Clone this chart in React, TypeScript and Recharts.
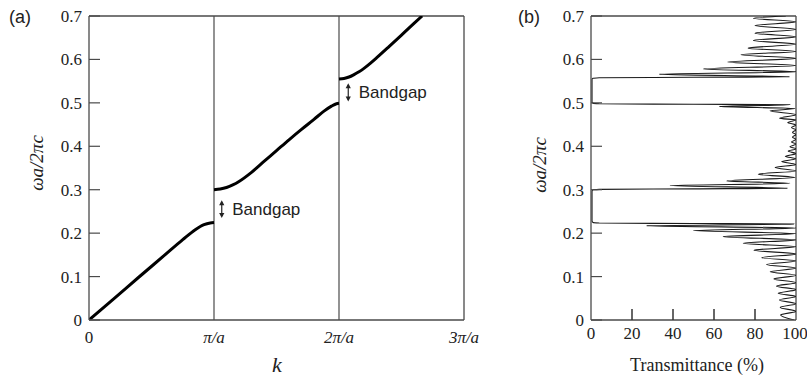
import React from 'react';
import { LineChart, Line, XAxis, YAxis, ReferenceLine } from 'recharts';

// ---------- data ----------
const kTicks = [0, 1, 2, 3];
const kTickLabels = ['0', 'π/a', '2π/a', '3π/a'];
const freqTicks = [0, 0.1, 0.2, 0.3, 0.4, 0.5, 0.6, 0.7];
const freqTickLabels = ['0', '0.1', '0.2', '0.3', '0.4', '0.5', '0.6', '0.7'];
const transTicks = [0, 20, 40, 60, 80, 100];
const transTickLabels = ['0', '20', '40', '60', '80', '100'];

// band diagram: [k (units of pi/a), normalized frequency]
const band1: [number, number][] = [
  [0, 0], [0.2, 0.049], [0.4, 0.099], [0.6, 0.148], [0.75, 0.185],
  [0.85, 0.208], [0.92, 0.2195], [0.97, 0.2235], [1.0, 0.2245],
];
const band2: [number, number][] = [
  [1.0, 0.3], [1.05, 0.3015], [1.1, 0.305], [1.15, 0.311], [1.2, 0.319], [1.3, 0.34],
  [1.4, 0.365], [1.5, 0.39], [1.6, 0.415], [1.7, 0.439], [1.8, 0.462], [1.88, 0.481],
  [1.94, 0.4925], [1.98, 0.498], [2.0, 0.499],
];
const band3: [number, number][] = [
  [2.0, 0.555], [2.04, 0.5563], [2.08, 0.5595], [2.12, 0.565], [2.16, 0.5715], [2.2, 0.5795],
  [2.25, 0.591], [2.3, 0.6035], [2.4, 0.6295], [2.5, 0.656], [2.6, 0.683], [2.665, 0.7],
];

// bandgap annotations: [k, lower freq, upper freq]
const gapArrows: [number, number, number][] = [
  [1.062, 0.235, 0.276],
  [2.074, 0.503, 0.545],
];
const gapLabel = 'Bandgap';

// transmittance spectrum: [normalized frequency, transmittance %]
const spectrum: [number, number][] = [
  [0, 99], [0.0115, 92.5], [0.02, 100], [0.029, 92.3], [0.0375, 100], [0.046, 91.9],
  [0.054, 100], [0.0615, 91.3], [0.07, 100], [0.078, 90.5], [0.086, 100], [0.0945, 89.2],
  [0.103, 100], [0.111, 87.4], [0.1195, 100], [0.128, 85.6], [0.136, 100], [0.1436, 83.3],
  [0.152, 100], [0.1606, 79.5], [0.169, 100], [0.1767, 74.3], [0.1845, 100], [0.1919, 64.5],
  [0.199, 100], [0.2058, 49.8], [0.2118, 100], [0.217, 27.0], [0.2208, 99],
  [0.2222, 50], [0.2232, 4], [0.2245, 1], [0.228, 0.5], [0.296, 0.5], [0.2995, 1],
  [0.3008, 4], [0.302, 50], [0.3035, 96],
  [0.3095, 38.5], [0.3148, 97], [0.3203, 66.2], [0.328, 99.5], [0.3357, 81.6], [0.3433, 100],
  [0.351, 89.8], [0.358, 100], [0.365, 93], [0.371, 100], [0.377, 94.8], [0.383, 100],
  [0.389, 96.2], [0.394, 100], [0.399, 97], [0.405, 100], [0.41, 97.8], [0.416, 100],
  [0.421, 98.3], [0.427, 100], [0.432, 98.3], [0.438, 100], [0.443, 97.8], [0.449, 100],
  [0.455, 96], [0.4605, 100], [0.4647, 92], [0.4725, 100], [0.4816, 87.3], [0.4868, 99.5],
  [0.4916, 62.6], [0.4955, 97],
  [0.4968, 50], [0.4978, 4], [0.499, 1], [0.502, 0.5], [0.554, 0.5], [0.5565, 1],
  [0.5578, 4], [0.5588, 50], [0.5602, 97],
  [0.566, 33.2], [0.5715, 100], [0.578, 54.8], [0.586, 100], [0.594, 66.7], [0.6025, 100],
  [0.611, 73.2], [0.6185, 100], [0.626, 76.7], [0.635, 100], [0.6436, 79.2], [0.652, 100],
  [0.6605, 80], [0.669, 100], [0.678, 80], [0.6865, 100], [0.695, 79.2], [0.7, 95],
];

// ---------- styles ----------
const SERIF = '"Liberation Serif", "Times New Roman", serif';
const SANS = '"Liberation Sans", Arial, sans-serif';
const FRAME = '#4a4a4a';
const TEXT = '#222';

const toBand = (arr: [number, number][]) => arr.map(([k, w]) => ({ k, w }));
const specData = spectrum.map(([f, t]) => ({ f, t }));

const FreqTick = (props: any) => {
  const { x, y, payload } = props;
  const i = freqTicks.indexOf(payload.value);
  return (
    <g>
      <line x1={x} x2={x + 11} y1={y} y2={y} stroke={FRAME} strokeWidth={1.2} />
      <text x={x - 7} y={y} dy="0.35em" textAnchor="end" fontFamily={SERIF} fontSize={17} fill={TEXT}>
        {i >= 0 ? freqTickLabels[i] : payload.value}
      </text>
    </g>
  );
};

const KTick = (props: any) => {
  const { x, y, payload } = props;
  const i = kTicks.indexOf(payload.value);
  return (
    <text x={x} y={y + 17} dy="0.35em" textAnchor="middle" fontFamily={SERIF} fontStyle={payload.value === 0 ? 'normal' : 'italic'} fontSize={17} fill={TEXT}>
      {i >= 0 ? kTickLabels[i] : payload.value}
    </text>
  );
};

// Transmittance axis tick: an inward (upward) mark of 11px plus the label below the axis.
const TransTick = (props: any) => {
  const { x, y, payload } = props;
  const i = transTicks.indexOf(payload.value);
  const v = Number(payload.value);
  return (
    <g>
      {v > 0 && v < 100 ? (
        <path d={`M${x},${y}L${x},${y - 11}`} stroke="#333" strokeWidth={1.5} fill="none" />
      ) : null}
      <text x={x} y={y + 13} dy="0.35em" textAnchor="middle" fontFamily={SERIF} fontSize={17} fill={TEXT}>
        {i >= 0 ? transTickLabels[i] : payload.value}
      </text>
    </g>
  );
};

const GapArrow = (props: any) => {
  const { x1, y1, y2 } = props;
  const x = x1;
  const top = Math.min(y1, y2);
  const bot = Math.max(y1, y2);
  return (
    <g>
      <line x1={x} x2={x} y1={top + 2} y2={bot - 2} stroke={TEXT} strokeWidth={1.2} />
      <polygon points={`${x},${top} ${x - 2.6},${top + 5} ${x + 2.6},${top + 5}`} fill={TEXT} />
      <polygon points={`${x},${bot} ${x - 2.6},${bot - 5} ${x + 2.6},${bot - 5}`} fill={TEXT} />
      <text x={x + 10.5} y={(top + bot) / 2} dy="0.35em" fontFamily={SANS} fontSize={17} fill={TEXT}>
        {gapLabel}
      </text>
    </g>
  );
};

const abs = (left: number, top: number): React.CSSProperties => ({
  position: 'absolute',
  left,
  top,
  whiteSpace: 'nowrap',
  lineHeight: 1,
});

export default function App() {
  return (
    <div style={{ position: 'absolute', left: 0, top: 0, width: 807, height: 378, background: '#fff', overflow: 'hidden' }}>
      {/* Panel (a) */}
      <div style={{ position: 'absolute', left: 0, top: 0 }}>
        <LineChart width={480} height={378} margin={{ top: 16, right: 16, bottom: 28, left: 29 }}>
          <XAxis
            type="number"
            dataKey="k"
            domain={[0, 3]}
            ticks={kTicks}
            allowDataOverflow
            tickSize={0}
            tickMargin={0}
            tickLine={false}
            height={30}
            axisLine={{ stroke: FRAME, strokeWidth: 1.3 }}
            tick={<KTick />}
          />
          <YAxis
            type="number"
            domain={[0, 0.7]}
            ticks={freqTicks}
            allowDataOverflow
            tickSize={0}
            tickMargin={0}
            tickLine={false}
            width={60}
            axisLine={{ stroke: FRAME, strokeWidth: 1.3 }}
            tick={<FreqTick />}
          />
          <ReferenceLine x={1} stroke={FRAME} strokeWidth={1.2} />
          <ReferenceLine x={2} stroke={FRAME} strokeWidth={1.2} />
          <ReferenceLine x={3} stroke={FRAME} strokeWidth={1.3} />
          <ReferenceLine y={0.7} stroke={FRAME} strokeWidth={1.3} />
          {gapArrows.map(([k, lo, hi], i) => (
            <ReferenceLine
              key={i}
              segment={[{ x: k, y: lo }, { x: k, y: hi }]}
              shape={(p: any) => <GapArrow {...p} />}
            />
          ))}
          <Line data={toBand(band1)} dataKey="w" type="monotone" stroke="#000" strokeWidth={3} dot={false} activeDot={false} isAnimationActive={false} />
          <Line data={toBand(band2)} dataKey="w" type="monotone" stroke="#000" strokeWidth={3} dot={false} activeDot={false} isAnimationActive={false} />
          <Line data={toBand(band3)} dataKey="w" type="monotone" stroke="#000" strokeWidth={3} dot={false} activeDot={false} isAnimationActive={false} />
        </LineChart>
      </div>

      {/* Panel (b) */}
      <div style={{ position: 'absolute', left: 480, top: 0 }}>
        <LineChart width={327} height={378} layout="vertical" data={specData} margin={{ top: 16, right: 11, bottom: 28, left: 51 }}>
          <XAxis
            type="number"
            domain={[0, 100]}
            ticks={transTicks}
            allowDataOverflow
            tickSize={0}
            tickMargin={0}
            tickLine={false}
            height={30}
            axisLine={{ stroke: FRAME, strokeWidth: 1.3 }}
            tick={<TransTick />}
          />
          <YAxis
            type="number"
            dataKey="f"
            domain={[0, 0.7]}
            ticks={freqTicks}
            reversed
            allowDataOverflow
            tickSize={0}
            tickMargin={0}
            tickLine={false}
            width={60}
            axisLine={{ stroke: FRAME, strokeWidth: 1.3 }}
            tick={<FreqTick />}
          />
          <ReferenceLine x={100} stroke={FRAME} strokeWidth={1.3} />
          <ReferenceLine y={0.7} stroke={FRAME} strokeWidth={1.3} />
          <Line dataKey="t" type="monotone" stroke="#1a1a1a" strokeWidth={1.1} dot={false} activeDot={false} isAnimationActive={false} />
        </LineChart>
      </div>

      {/* labels */}
      <div style={{ ...abs(9, 8), fontFamily: SANS, fontSize: 18, color: TEXT }}>(a)</div>
      <div style={{ ...abs(518, 8), fontFamily: SANS, fontSize: 18, color: TEXT }}>(b)</div>
      <div style={{ ...abs(36, 163), fontFamily: SERIF, fontStyle: 'italic', fontSize: 19, color: TEXT, transform: 'translate(-50%, -50%) rotate(-90deg)' }}>ωa/2πc</div>
      <div style={{ ...abs(539, 165), fontFamily: SERIF, fontStyle: 'italic', fontSize: 19, color: TEXT, transform: 'translate(-50%, -50%) rotate(-90deg)' }}>ωa/2πc</div>
      <div style={{ ...abs(277, 365), fontFamily: SERIF, fontStyle: 'italic', fontSize: 22, color: TEXT, transform: 'translate(-50%, -50%)' }}>k</div>
      <div style={{ ...abs(697, 365), fontFamily: SERIF, fontSize: 18, color: TEXT, transform: 'translate(-50%, -50%)' }}>Transmittance (%)</div>
    </div>
  );
}
